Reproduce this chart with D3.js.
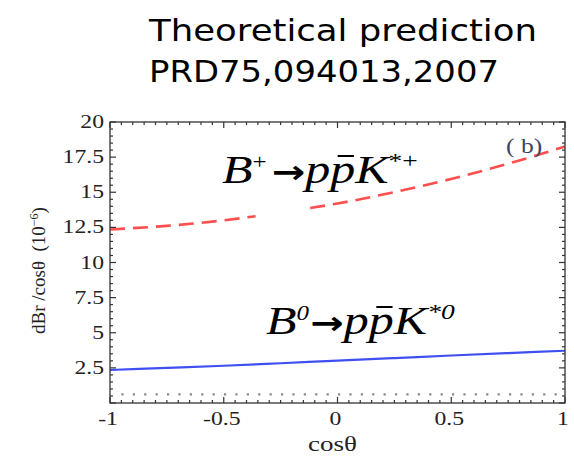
<!DOCTYPE html>
<html>
<head>
<meta charset="utf-8">
<script src="https://cdn.jsdelivr.net/npm/d3@7"></script>
<style>
html,body{margin:0;padding:0;background:#fff;}
svg{display:block;}
</style>
</head>
<body>
<svg id="chart" width="574" height="461"></svg>
<script>
// ---- data ----
const cosTheta   = [-1, -0.75, -0.5, -0.25, 0, 0.25, 0.5, 0.75, 1];
const bPlusVals  = [12.35, 12.61, 13.0, 13.53, 14.2, 15.01, 15.95, 17.03, 18.25];
const bZeroVals  = [2.35, 2.5, 2.65, 2.83, 3.02, 3.2, 3.38, 3.55, 3.72];
const dotX       = [-0.95, 1];
const dotVals    = [0.62, 0.62];
const bPlusGap   = [-0.36, -0.12];
const yTickVals  = [2.5, 5, 7.5, 10, 12.5, 15, 17.5, 20];
const yTickText  = ["2.5", "5", "7.5", "10", "12.5", "15", "17.5", "20"];
const xTickVals  = [-1, -0.5, 0, 0.5, 1];
const xTickText  = ["-1", "-0.5", "0", "0.5", "1"];
const titleLines = ["Theoretical prediction", "PRD75,094013,2007"];

// ---- layout ----
const W = 574, H = 461;
const m = {left: 110, right: 9, top: 122, bottom: 58};
const svg = d3.select("#chart");
const x = d3.scaleLinear().domain([-1, 1]).range([m.left, W - m.right]);
const y = d3.scaleLinear().domain([0, 20]).range([H - m.bottom, m.top]);
const SX = 1.28; // horizontal stretch of the original figure
const serif = "'Liberation Serif','Times New Roman',serif";

// title
svg.append("text").attr("x", 149).attr("y", 41)
  .attr("font-family", "'DejaVu Sans',Verdana,sans-serif").attr("font-size", 31)
  .attr("textLength", 388).attr("lengthAdjust", "spacingAndGlyphs")
  .attr("fill", "#000").text(titleLines[0]);
svg.append("text").attr("x", 149).attr("y", 82)
  .attr("font-family", "'DejaVu Sans',Verdana,sans-serif").attr("font-size", 31)
  .attr("textLength", 350).attr("lengthAdjust", "spacingAndGlyphs")
  .attr("fill", "#000").text(titleLines[1]);

// curves
const pts = (xs, ys) => xs.map((v, i) => [v, ys[i]]);
const redPts = pts(cosTheta, bPlusVals);
const interp = c => {
  for (let i = 0; i < cosTheta.length - 1; i++) {
    if (c >= cosTheta[i] && c <= cosTheta[i + 1]) {
      const t = (c - cosTheta[i]) / (cosTheta[i + 1] - cosTheta[i]);
      return bPlusVals[i] + t * (bPlusVals[i + 1] - bPlusVals[i]);
    }
  }
};
const seg1 = redPts.filter(p => p[0] < bPlusGap[0]).concat([[bPlusGap[0], interp(bPlusGap[0])]]);
const seg2 = [[bPlusGap[1], interp(bPlusGap[1])]].concat(redPts.filter(p => p[0] > bPlusGap[1]));
const line = d3.line().x(d => x(d[0])).y(d => y(d[1])).curve(d3.curveMonotoneX);

[seg1, seg2].forEach(s => {
  svg.append("path").attr("d", line(s)).attr("fill", "none")
    .attr("stroke", "#ff3b3b").attr("stroke-width", 2.6)
    .attr("stroke-dasharray", "15,8").attr("opacity", 0.9);
});
svg.append("path").attr("d", line(pts(cosTheta, bZeroVals))).attr("fill", "none")
  .attr("stroke", "#2a3cf0").attr("stroke-width", 2.2).attr("opacity", 0.9);
svg.append("path").attr("d", d3.line().x(d => x(d[0])).y(d => y(d[1]))(pts(dotX, dotVals)))
  .attr("fill", "none").attr("stroke", "#888").attr("stroke-width", 2.2)
  .attr("stroke-dasharray", "2.2,9.2");

// frame + ticks (Mathematica style, inward)
const fr = svg.append("g");
fr.append("rect").attr("x", x(-1)).attr("y", y(20))
  .attr("width", x(1) - x(-1)).attr("height", y(0) - y(20))
  .attr("fill", "none").attr("stroke", "#333").attr("stroke-width", 1.3);
const yMinor = d3.range(0, 20.001, 0.5);
const xMinor = d3.range(-1, 1.0001, 0.05);
const isMajY = v => Math.abs(v / 2.5 - Math.round(v / 2.5)) < 1e-6;
const isMajX = v => Math.abs(v / 0.5 - Math.round(v / 0.5)) < 1e-6;
yMinor.forEach(v => {
  const L = isMajY(v) ? 6 : 3;
  fr.append("line").attr("x1", x(-1)).attr("x2", x(-1) + L).attr("y1", y(v)).attr("y2", y(v))
    .attr("stroke", "#333").attr("stroke-width", 1.2);
  fr.append("line").attr("x1", x(1)).attr("x2", x(1) - L).attr("y1", y(v)).attr("y2", y(v))
    .attr("stroke", "#333").attr("stroke-width", 1.2);
});
xMinor.forEach(v => {
  const L = isMajX(v) ? 6 : 3;
  fr.append("line").attr("x1", x(v)).attr("x2", x(v)).attr("y1", y(0)).attr("y2", y(0) - L)
    .attr("stroke", "#333").attr("stroke-width", 1.2);
  fr.append("line").attr("x1", x(v)).attr("x2", x(v)).attr("y1", y(20)).attr("y2", y(20) + L)
    .attr("stroke", "#333").attr("stroke-width", 1.2);
});

// tick labels
yTickVals.forEach((v, i) => {
  svg.append("text").attr("transform", `translate(${x(-1) - 6},${y(v) + 6}) scale(${SX},1)`)
    .attr("text-anchor", "end").attr("font-family", serif).attr("font-size", 18.5)
    .attr("fill", "#222").text(yTickText[i]);
});
xTickVals.forEach((v, i) => {
  svg.append("text").attr("transform", `translate(${x(v) - 2},${y(0) + 22}) scale(${SX},1)`)
    .attr("text-anchor", "middle").attr("font-family", serif).attr("font-size", 18.5)
    .attr("fill", "#222").text(xTickText[i]);
});

// axis titles
svg.append("text").attr("transform", `translate(${x(0) - 5},${H - 10}) scale(1.35,1)`)
  .attr("text-anchor", "middle").attr("font-family", serif).attr("font-size", 20)
  .attr("fill", "#222").text("cosθ");
const yl = svg.append("text").attr("transform", `translate(45,${(y(0) + y(20)) / 2 + 8}) rotate(-90)`)
  .attr("text-anchor", "middle").attr("font-family", serif).attr("font-size", 19)
  .attr("fill", "#222");
yl.append("tspan").text("dBr\u00A0/cosθ\u00A0\u00A0(10");
yl.append("tspan").attr("font-size", 12).attr("dy", -7).text("−6");
yl.append("tspan").attr("dy", 7).text(")");

// panel tag
svg.append("text").attr("transform", `translate(506,153) scale(${SX},1)`)
  .attr("font-family", serif).attr("font-size", 20).attr("fill", "#3b4660")
  .text("(\u00A0b)");

// reaction labels
function reaction(px, py, sup1, sup2) {
  const g = svg.append("g").attr("transform", `translate(${px},${py}) scale(1.25,1)`);
  const t = g.append("text").attr("font-family", serif).attr("font-size", 40).attr("fill", "#000");
  t.append("tspan").attr("font-style", "italic").text("B");
  t.append("tspan").attr("font-size", 20).attr("dy", -14).attr("font-style", sup1 === "0" ? "italic" : "normal").text(sup1);
  t.append("tspan").attr("dy", 14).attr("dx", sup1 === "0" ? 1 : 4).attr("font-family", "'DejaVu Sans',sans-serif")
    .attr("font-weight", "bold").attr("font-size", 32).text("→");
  t.append("tspan").attr("font-style", "italic").text("p");
  t.append("tspan").attr("font-style", "italic").text("p");
  t.append("tspan").attr("font-style", "italic").text("K");
  t.append("tspan").attr("font-size", 22).attr("dy", -15).attr("font-style", sup2 === "*0" ? "italic" : "normal").text(sup2);
  const ext = t.node().getExtentOfChar(4);
  g.append("line").attr("x1", ext.x + 6).attr("x2", ext.x + ext.width - 1)
    .attr("y1", -27).attr("y2", -27).attr("stroke", "#000").attr("stroke-width", 2);
}
reaction(222, 183, "+", "*+");
reaction(266, 334, "0", "*0");
</script>
</body>
</html>
